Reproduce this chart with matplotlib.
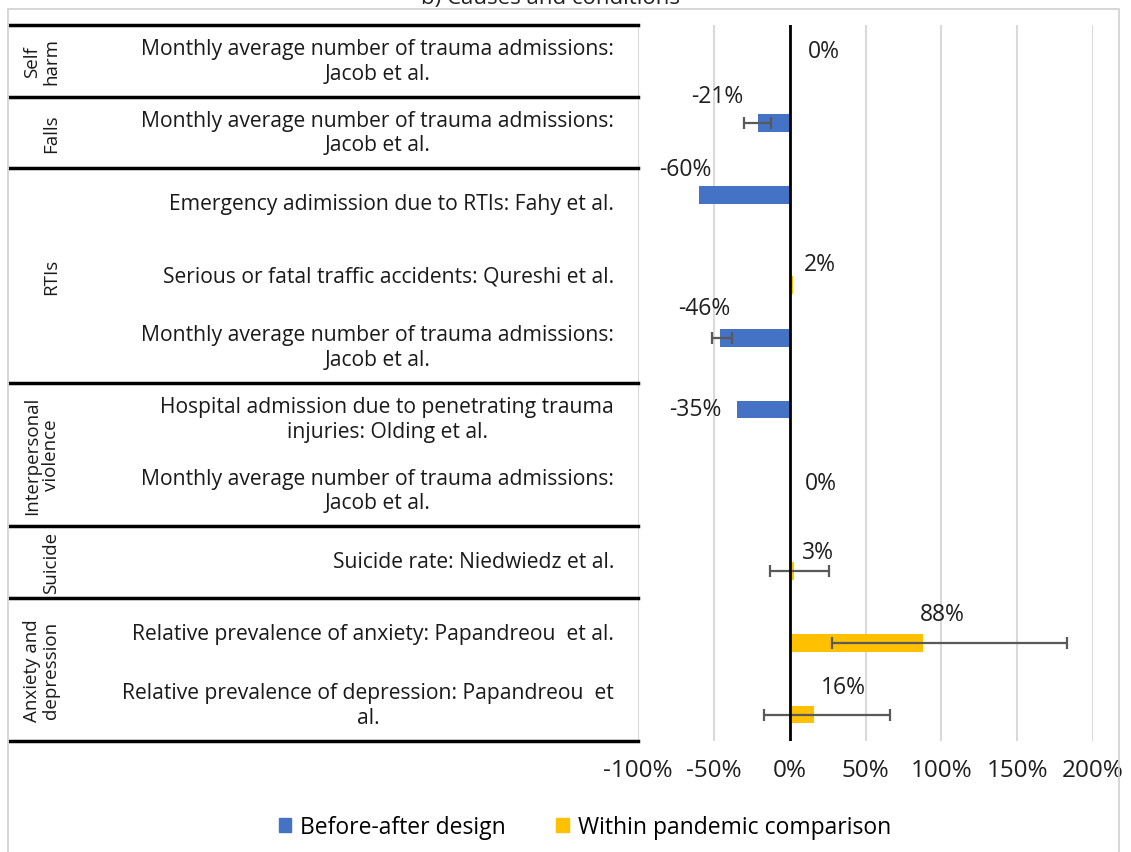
import numpy as np
import matplotlib.pyplot as plt
from matplotlib.patches import Rectangle

plt.rcParams['font.family'] = ['Open Sans', 'DejaVu Sans']

# data, top to bottom
categories = ['Self\nharm', 'Falls', 'RTIs', 'Interpersonal\nviolence', 'Suicide', 'Anxiety and\ndepression']
category_rows = [1, 1, 3, 2, 1, 2]
outcomes = [
    'Monthly average number of trauma admissions:\nJacob et al.',
    'Monthly average number of trauma admissions:\nJacob et al.',
    'Emergency adimission due to RTIs: Fahy et al.',
    'Serious or fatal traffic accidents: Qureshi et al.',
    'Monthly average number of trauma admissions:\nJacob et al.',
    'Hospital admission due to penetrating trauma\ninjuries: Olding et al.',
    'Monthly average number of trauma admissions:\nJacob et al.',
    'Suicide rate: Niedwiedz et al.',
    'Relative prevalence of anxiety: Papandreou  et al.',
    'Relative prevalence of depression: Papandreou  et\nal.',
]
nan = np.nan
before_after = [0, -21, -60, nan, -46, -35, 0, nan, nan, nan]
before_lo = [nan, -30, nan, nan, -51, nan, nan, nan, nan, nan]
before_hi = [nan, -12, nan, nan, -38, nan, nan, nan, nan, nan]
within = [nan, nan, nan, 2, nan, nan, nan, 3, 88, 16]
within_lo = [nan, nan, nan, nan, nan, nan, nan, -13, 28, -17]
within_hi = [nan, nan, nan, nan, nan, nan, nan, 26, 183, 66]
xticks = [-100, -50, 0, 50, 100, 150, 200]

# label offsets in pixels (dx, dy) from bar end, per row
label_off = [(34, 0), (-41, 27), (-13, 26), (27, 21), (-16, 30), (-41, 0), (31, -2), (24, 19), (19, 29), (29, 28)]

blue = '#4472C4'
yellow = '#FFC000'
W, H = 1131, 853
fig = plt.figure(figsize=(W / 100, H / 100), dpi=100)

# outer light border
fig.patches.append(Rectangle((8 / W, -0.02), 1111 / W, 1 - 10 / H + 0.02, transform=fig.transFigure,
                             fill=False, ec='#d0d0d0', lw=1.2))
fig.text(0.487, 1 - 4 / H, 'b) Causes and conditions', ha='center', va='baseline', fontsize=16, color='#222222')

top, bot = 26, 742
ax = fig.add_axes([638 / W, 1 - bot / H, (1093 - 638) / W, (bot - top) / H])
n = len(outcomes)
y = np.arange(n)
off, h = 0.13, 0.25

ba = np.array(before_after, float)
wi = np.array(within, float)
ax.barh(y - off, np.nan_to_num(ba), height=h, color=blue, zorder=2)
ax.barh(y + off, np.nan_to_num(wi), height=h, color=yellow, zorder=2)

for vals, lo, hi, yy in [(ba, before_lo, before_hi, y - off), (wi, within_lo, within_hi, y + off)]:
    lo = np.array(lo, float)
    hi = np.array(hi, float)
    m = ~np.isnan(lo)
    ax.errorbar(vals[m], yy[m], xerr=[vals[m] - lo[m], hi[m] - vals[m]], fmt='none',
                ecolor='#595959', elinewidth=1.6, capsize=4, capthick=1.6, zorder=3)

for i in range(n):
    if not np.isnan(ba[i]):
        v, yy = ba[i], y[i] - off
    else:
        v, yy = wi[i], y[i] + off
    dx, dy = label_off[i]
    ax.annotate('%d%%' % v, (v, yy), xytext=(dx, dy), textcoords='offset pixels',
                ha='center', va='center', fontsize=16.5, color='#1f1f1f', zorder=4)

ax.set_xlim(-100, 200)
ax.set_ylim(n - 0.5, -0.5)
ax.set_xticks(xticks)
ax.set_xticklabels(['%d%%' % t for t in xticks], fontsize=17.5, color='#1f1f1f')
ax.set_yticks([])
ax.tick_params(axis='x', length=0, pad=12)
ax.grid(axis='x', color='#d9d9d9', lw=1.5, zorder=0)
ax.axvline(0, color='black', lw=2, zorder=3)
for s in ax.spines.values():
    s.set_visible(False)

# table on the left, same rows
tb = fig.add_axes([10 / W, 1 - bot / H, (638 - 10) / W, (bot - top) / H], sharey=ax)
tb.set_xlim(0, 1)
tb.axis('off')
for i, txt in enumerate(outcomes):
    tb.text(0.962, i, txt, ha='right', va='center', multialignment='center', fontsize=15.2,
            color='#1a1a1a', linespacing=1.22)
start = 0
bounds = [-0.5]
for cat, k in zip(categories, category_rows):
    mid = start + k / 2 - 0.5
    tb.text(0.08, mid, cat, rotation=90, ha='right', va='center', multialignment='center',
            fontsize=13.5, color='#1a1a1a', linespacing=1.1)
    start += k
    bounds.append(start - 0.5)
for b in bounds:
    tb.axhline(b, color='black', lw=2.5, clip_on=False)

handles = [Rectangle((0, 0), 1, 1, color=blue), Rectangle((0, 0), 1, 1, color=yellow)]
fig.legend(handles, ['Before-after design', 'Within pandemic comparison'], loc='center',
           bbox_to_anchor=(585 / W, 1 - 828 / H), ncol=2, frameon=False, fontsize=16.5,
           handlelength=0.55, handleheight=0.55, handletextpad=0.4, columnspacing=2.2)

fig.savefig('out.png', dpi=100)
